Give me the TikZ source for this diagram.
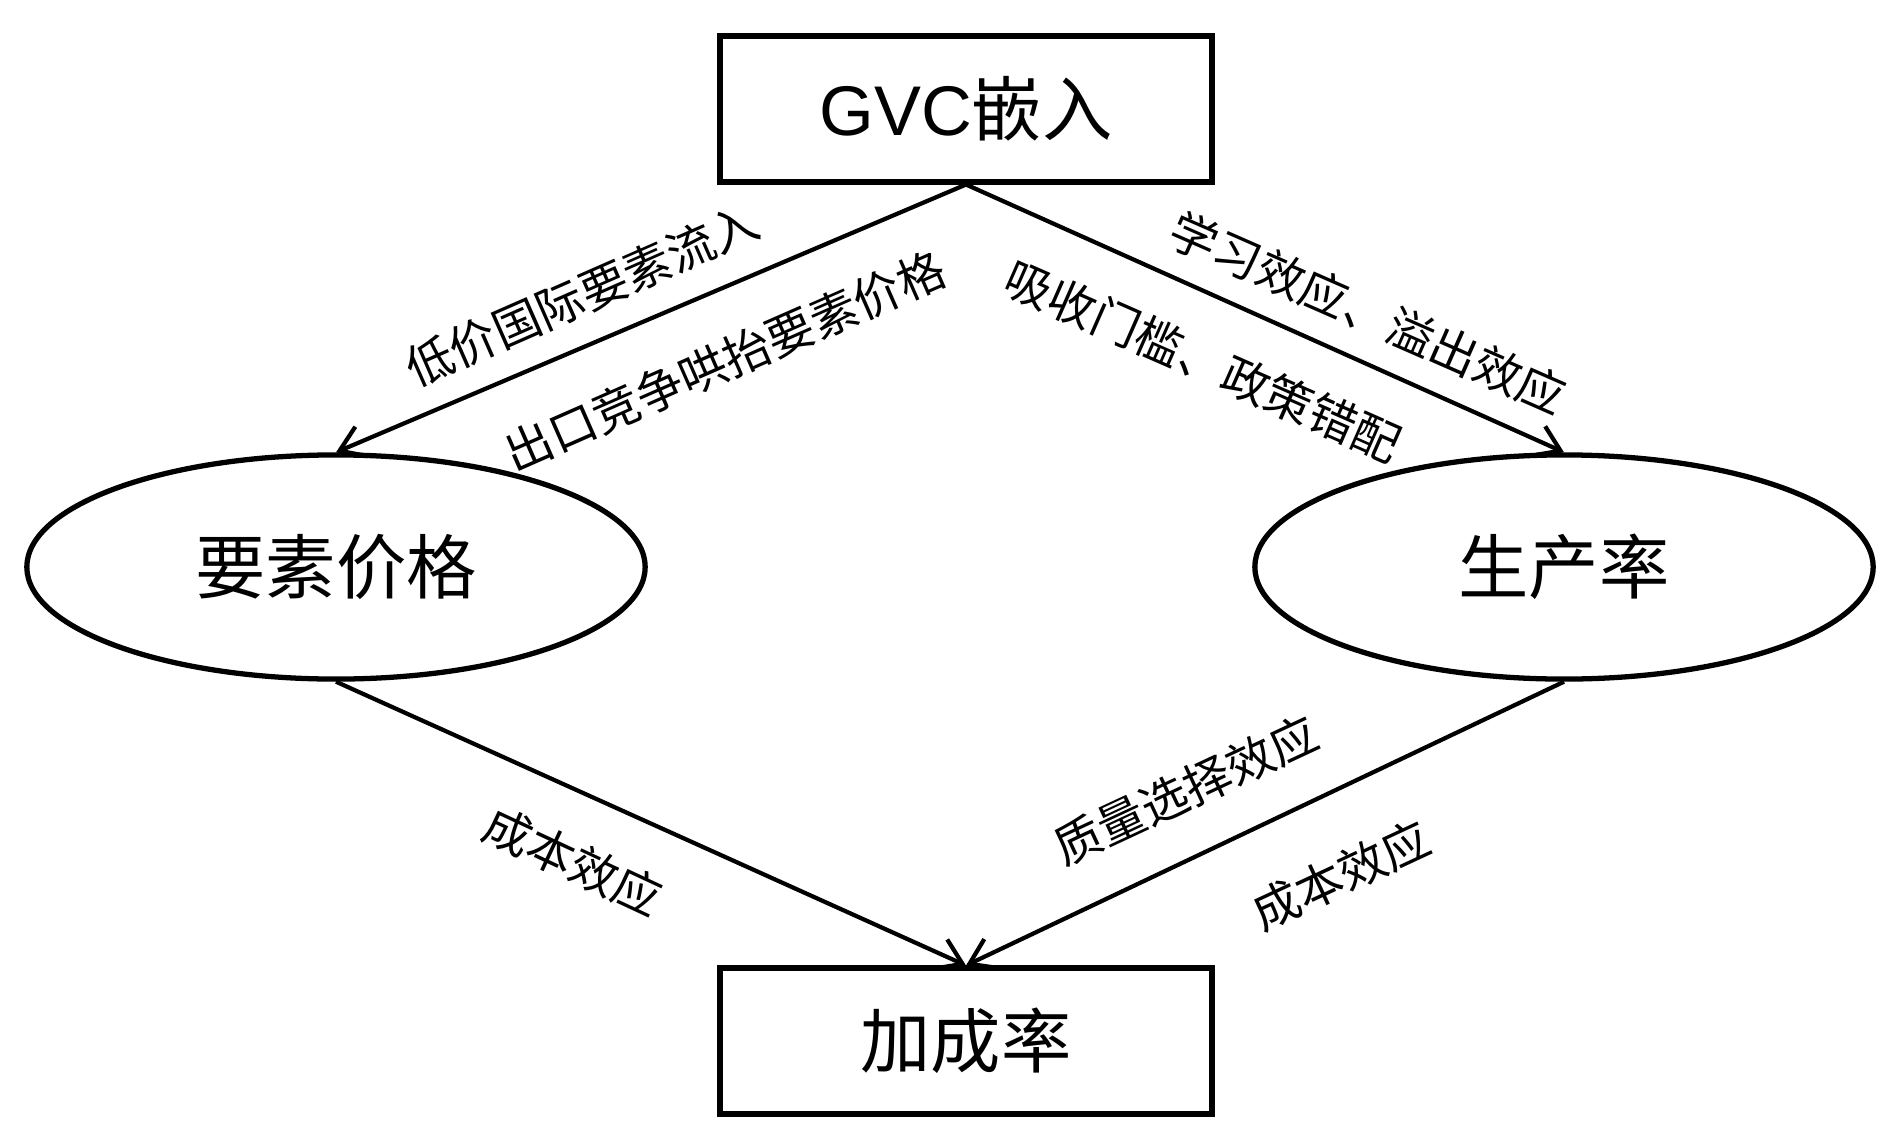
\documentclass[tikz,border=0pt]{standalone}
\usepackage{fontspec}
\setmainfont{Noto Sans CJK SC}
\newfontfamily\latinfont{Liberation Sans}
\usetikzlibrary{shapes.geometric,arrows.meta}
\tikzset{
  box/.style={draw,line width=1.7pt,minimum width=4.92cm,minimum height=1.45cm,font=\fontsize{20}{24}\selectfont},
  oval/.style={draw,ellipse,line width=1.5pt,minimum width=6.18cm,minimum height=2.24cm,inner sep=0pt,font=\fontsize{20}{24}\selectfont},
  link/.style={line width=1.2pt,-{Straight Barb[length=2.4mm,width=3.2mm,line width=1.2pt]}},
  lab/.style={font=\fontsize{13.5}{16}\selectfont,inner sep=0pt}
}
\begin{document}
\begin{tikzpicture}[x=0.01cm,y=-0.01cm]
                \useasboundingbox (0,0) rectangle (1901,1146);
                \node[box] (gvc) at (966,109) {{\latinfont GVC}嵌入};
                \node[oval] (price) at (336,567) {要素价格};
                \node[oval] (prod) at (1564,567) {生产率};
                \node[box] (markup) at (966,1041) {加成率};

                \node[lab,rotate=23.7] (lowin) at (582,295) {低价国际要素流入};
                \node[lab,rotate=23.7] (export) at (725,361) {出口竞争哄抬要素价格};
                \node[lab,rotate=-23.7] (learn) at (1368,313) {学习效应、溢出效应};
                \node[lab,rotate=-23.7] (absorb) at (1203,361) {吸收门槛、政策错配};
                \node[lab,rotate=-25] (costL) at (573,861) {成本效应};
                \node[lab,rotate=25] (quality) at (1186,790) {质量选择效应};
                \node[lab,rotate=25] (costR) at (1341,875) {成本效应};

                \draw[link] (gvc.south) to (price.north); \draw[link] (gvc.south) to (prod.north);
                \draw[link] (price.south) to (markup.north); \draw[link] (prod.south) to (markup.north);
            \end{tikzpicture}
\end{document}
